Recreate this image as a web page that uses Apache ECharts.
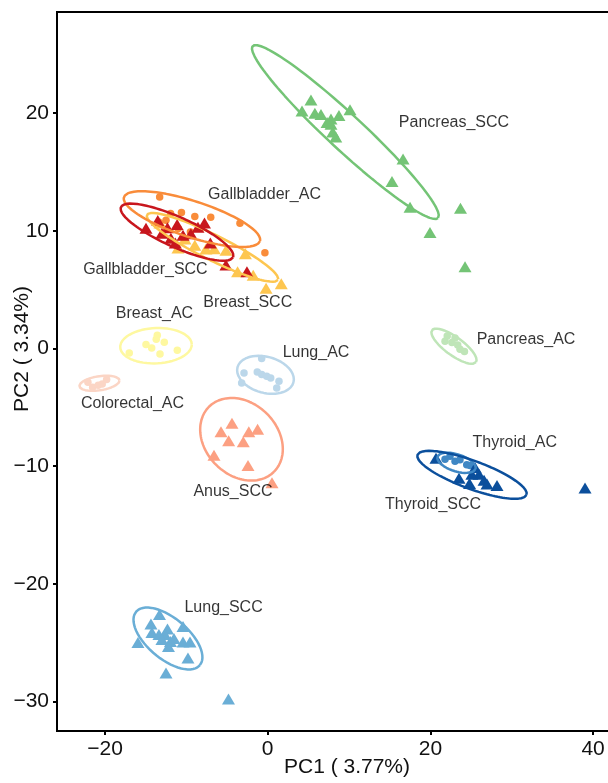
<!DOCTYPE html>
<html>
<head>
<meta charset="utf-8">
<script src="https://cdn.jsdelivr.net/npm/echarts@6/dist/echarts.min.js"></script>
<style>
  html, body { margin: 0; padding: 0; background: #fff; }
  #chart { width: 608px; height: 783px; }
</style>
</head>
<body>
<div id="chart"></div>
<script>
// PCA sample scores, one pair of arrays per group (PC1, PC2)
const anusSccX = [-4.39, -5.74, -4.8, -3.0, -2.32, -1.24, -6.6, -2.42, 0.53];
const anusSccY = [-6.35, -7.08, -7.84, -7.93, -7.08, -6.86, -9.07, -9.93, -11.41];

const breastAcX = [-17.02, -14.96, -14.26, -13.57, -13.7, -12.71, -13.24, -11.11];
const breastAcY = [-0.37, 0.34, 0.05, 1.13, 0.8, 0.54, -0.46, -0.14];

const breastSccX = [-8.96, -7.59, -6.57, -5.13, -2.74, -3.7, -1.78, -0.2, 1.67, -13.24, -10.17, -11.03];
const breastSccY = [8.78, 8.45, 8.48, 8.36, 8.05, 6.53, 6.23, 5.13, 5.51, 10.66, 9.3, 8.54];

const colorectalAcX = [-21.52, -20.83, -20.34, -19.8, -22.1];
const colorectalAcY = [-3.29, -3.12, -3.01, -2.64, -2.87];

const gallbladderAcX = [-13.28, -11.94, -10.6, -8.96, -7.0, -3.41, -0.34, -13.28, -11.0, -9.5, -12.5];
const gallbladderAcY = [12.88, 11.48, 11.57, 11.23, 11.15, 10.64, 8.14, 10.7, 10.2, 9.9, 10.9];

const gallbladderSccX = [-14.96, -13.51, -12.32, -11.13, -10.41, -9.44, -7.77, -7.05, -5.13, -2.55, -11.36, -13.0, -8.57, -11.9];
const gallbladderSccY = [10.23, 10.89, 10.26, 10.55, 9.62, 9.75, 10.68, 8.98, 7.09, 6.52, 8.98, 9.8, 10.3, 9.38];

const lungAcX = [-0.74, -2.91, -3.2, -1.28, -0.74, -0.12, 0.37, 1.39, 1.11];
const lungAcY = [-0.85, -2.08, -2.93, -1.99, -2.21, -2.36, -2.5, -2.78, -3.35];

const lungSccX = [-13.3, -14.35, -15.95, -14.23, -13.37, -12.32, -11.95, -12.2, -11.52, -10.41, -10.41, -9.55, -9.8, -12.5, -4.82, -12.63, -13.0];
const lungSccY = [-22.6, -23.4, -24.98, -24.13, -24.3, -23.83, -24.89, -25.32, -24.64, -23.62, -24.94, -24.94, -26.3, -27.57, -29.78, -24.3, -24.72];

const pancreasAcX = [22.07, 22.65, 23.36, 24.19, 23.03, 21.8, 23.64];
const pancreasAcY = [1.06, 0.51, 0.3, -0.26, 0.89, 0.62, -0.06];

const pancreasSccX = [5.32, 4.22, 6.55, 7.78, 8.76, 10.12, 8.0, 8.37, 7.78, 7.3, 5.8, 16.64, 15.28, 17.5, 23.7, 19.95, 24.26];
const pancreasSccY = [21.12, 20.18, 19.88, 19.5, 19.8, 20.3, 18.4, 17.97, 19.07, 19.2, 20.0, 16.1, 14.2, 12.0, 11.93, 9.87, 6.96];

const thyroidAcX = [22.41, 23.03, 23.64, 24.47, 21.8, 24.87];
const thyroidAcY = [-9.16, -9.58, -9.44, -9.87, -9.41, -9.93];

const thyroidSccX = [20.69, 23.52, 24.81, 25.98, 26.6, 26.96, 28.19, 39.01, 25.49, 25.1];
const thyroidSccY = [-9.33, -11.03, -11.46, -10.69, -11.2, -11.5, -11.63, -11.84, -10.1, -10.69];

// Group names, in plotting order
const groupNames = ['Anus_SCC', 'Breast_AC', 'Breast_SCC', 'Colorectal_AC', 'Gallbladder_AC', 'Gallbladder_SCC',
                    'Lung_AC', 'Lung_SCC', 'Pancreas_AC', 'Pancreas_SCC', 'Thyroid_AC', 'Thyroid_SCC'];
const groupX = [anusSccX, breastAcX, breastSccX, colorectalAcX, gallbladderAcX, gallbladderSccX,
                lungAcX, lungSccX, pancreasAcX, pancreasSccX, thyroidAcX, thyroidSccX];
const groupY = [anusSccY, breastAcY, breastSccY, colorectalAcY, gallbladderAcY, gallbladderSccY,
                lungAcY, lungSccY, pancreasAcY, pancreasSccY, thyroidAcY, thyroidSccY];

// Confidence ellipse per group: centre and two conjugate semi-axes (PC units)
const ellipseCx = [-3.22, -13.73, -6.79, -20.68, -9.31, -11.15, -0.27, -12.26, 22.9, 9.55, 23.21, 25.12];
const ellipseCy = [-7.71, 0.24, 8.6, -2.95, 11.0, 9.89, -2.23, -24.64, 0.2, 18.4, -9.71, -10.73];
const ellipseAxisA = [[4.0, -2.76], [4.4, 0.1], [8.05, -2.76], [2.46, 0.255], [8.36, -1.87], [6.89, -2.13],
                      [3.44, -0.64], [3.92, -2.27], [2.7, -1.36], [11.39, -7.31], [2.34, -0.51], [6.7, -1.7]];
const ellipseAxisB = [[-3.13, -2.17], [0, 1.5], [-0.684, -0.953], [0.128, -0.59], [-0.68, -1.456], [-0.75, -1.165],
                      [-0.57, -1.48], [-1.61, -1.33], [-0.65, -0.62], [1.48, 1.1], [-0.31, -0.69], [-0.59, -1.12]];

// Axis ticks
const pc1Ticks = [-20, 0, 20, 40];
const pc2Ticks = [-30, -20, -10, 0, 10, 20];

// ---- styling ----
const groupColors = ['#FCA082', '#FEF8A0', '#FDC650', '#FBD5C5', '#F98C3A', '#C8161D',
                     '#BBD7EA', '#6AAED6', '#BFE5B8', '#74C476', '#3F87C4', '#0B4F9C'];
// where each group's name is written (PC units)
const labelAnchor = [[-4.27, -12.14], [-13.92, 2.97], [-2.45, 3.9], [-16.62, -4.7], [-0.39, 13.12], [-15.03, 6.74],
                     [5.94, -0.31], [-5.42, -22.04], [31.76, 0.79], [22.9, 19.16], [30.37, -8.01], [20.33, -13.24]];

const FONT = "'Liberation Sans', Arial, Helvetica, sans-serif";

function ellipsePath(i) {
  const pts = [];
  const n = 120;
  for (let k = 0; k <= n; k++) {
    const t = 2 * Math.PI * k / n;
    pts.push([
      ellipseCx[i] + ellipseAxisA[i][0] * Math.cos(t) + ellipseAxisB[i][0] * Math.sin(t),
      ellipseCy[i] + ellipseAxisA[i][1] * Math.cos(t) + ellipseAxisB[i][1] * Math.sin(t)
    ]);
  }
  return pts;
}

const series = [];
// sample points: AC groups as dots, SCC groups as triangles
groupNames.forEach((name, i) => {
  const isScc = name.endsWith('_SCC');
  series.push({
    type: 'scatter',
    name: name,
    data: groupX[i].map((x, j) => [x, groupY[i][j]]),
    symbol: isScc ? 'triangle' : 'circle',
    symbolSize: isScc ? [13, 11] : 7.5,
    itemStyle: { color: groupColors[i], opacity: 1 },
    emphasis: { disabled: true },
    animation: false,
    z: 2
  });
});
// ellipses
groupNames.forEach((name, i) => {
  series.push({
    type: 'line',
    name: name + ' ellipse',
    data: ellipsePath(i),
    showSymbol: false,
    smooth: false,
    lineStyle: { color: groupColors[i], width: 2.5 },
    emphasis: { disabled: true },
    animation: false,
    z: 3
  });
});
// group names
series.push({
  type: 'scatter',
  name: 'group labels',
  data: groupNames.map((name, i) => ({ name: name, value: labelAnchor[i] })),
  symbolSize: 0,
  label: {
    show: true,
    position: 'inside',
    formatter: '{b}',
    color: '#000',
    fontSize: 16,
    fontFamily: FONT
  },
  emphasis: { disabled: true },
  animation: false,
  z: 4
});

const axisCommon = {
  type: 'value',
  splitLine: { show: false },
  axisLine: { show: true, onZero: false, lineStyle: { color: '#000', width: 2 } },
  axisTick: { show: true, length: 4, lineStyle: { color: '#000', width: 2 } },
  nameLocation: 'middle',
  nameMoveOverlap: false,
  nameTextStyle: { fontSize: 21, color: '#111', fontFamily: FONT }
};
const tickLabelStyle = { fontSize: 21, color: '#111', fontFamily: FONT, margin: 8,
                         formatter: v => String(v).replace('-', '\u2212') };

const chart = echarts.init(document.getElementById('chart'), null, { renderer: 'canvas' });
chart.setOption({
  backgroundColor: '#fff',
  animation: false,
  grid: {
    left: 57, top: 12, right: -29, bottom: 52,
    show: true, borderColor: '#000', borderWidth: 2,
    outerBoundsMode: 'none', containLabel: false
  },
  // vertical axis title
  graphic: [{
    type: 'text',
    x: 22,
    y: 349,
    rotation: Math.PI / 2,
    style: {
      text: 'PC2 ( 3.34%)',
      fontSize: 21,
      fontFamily: FONT,
      fill: '#111',
      align: 'center',
      verticalAlign: 'middle'
    }
  }],
  xAxis: Object.assign({}, axisCommon, {
    min: -25.9, max: 45.4,
    name: 'PC1 ( 3.77%)',
    nameGap: 26,
    axisTick: Object.assign({}, axisCommon.axisTick, { customValues: pc1Ticks }),
    axisLabel: Object.assign({ customValues: pc1Ticks }, tickLabelStyle)
  }),
  yAxis: Object.assign({}, axisCommon, {
    min: -32.5, max: 28.6,
    axisTick: Object.assign({}, axisCommon.axisTick, { customValues: pc2Ticks }),
    axisLabel: Object.assign({ customValues: pc2Ticks }, tickLabelStyle)
  }),
  series: series
});
</script>
</body>
</html>
